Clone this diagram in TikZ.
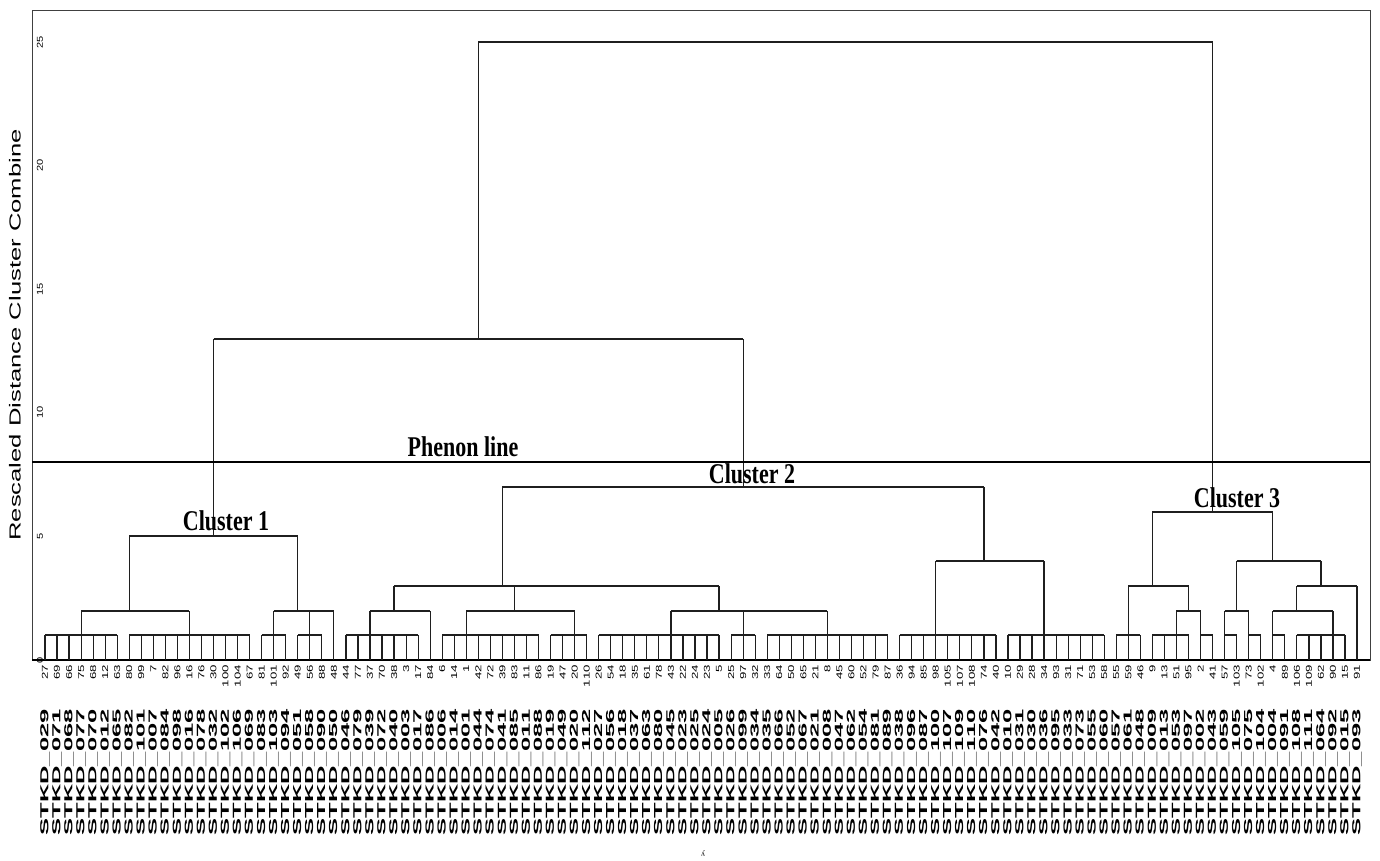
\documentclass[tikz,border=0pt]{standalone}
\usepackage{fontspec}
\setmainfont{Liberation Serif}
\setsansfont{Liberation Sans}[Kerning=Off]
\pgfmathdeclarefunction{lx}{1}{\pgfmathparse{45+(#1-1)*12.037}}
\pgfmathdeclarefunction{hy}{1}{\pgfmathparse{660-24.72*#1}}
\newcommand\vseg[3]{\draw[vbar] ({lx(#1)},{hy(#2)}) -- ({lx(#1)},{hy(#3)});}
\newcommand\hseg[3]{\draw[hbar] ({lx(#1)},{hy(#3)}) -- ({lx(#2)},{hy(#3)});}
\tikzset{
  vbar/.style={line width=0.9pt, black!88},
  hbar/.style={line width=1.6pt, black!88},
  frameline/.style={line width=0.6pt, black!75},
  clab/.style={font=\bfseries\fontsize{16.5}{18}\selectfont, inner sep=0},
  numlab/.style={rotate=90, anchor=east, inner sep=0, font=\sffamily\fontsize{6.4}{7}\selectfont},
  idlab/.style={rotate=90, anchor=east, inner sep=0, font=\sffamily\bfseries\fontsize{8.7}{9}\selectfont},
  ticklab/.style={rotate=90, inner sep=0, font=\sffamily\fontsize{6.4}{7}\selectfont}
}
\begin{document}
\begin{tikzpicture}[x=0.75pt, y=-0.75pt]
\useasboundingbox (0,0) rectangle (1380,860);
% frame
\draw[frameline] (32,10) rectangle (1370,660);
\draw[line width=1.3pt] (32,660) -- (1370,660);
% y axis
\foreach \v in {0,5,...,25} {\node[ticklab] (t\v) at (40,{hy(\v)}) {\scalebox{1.3}[1]{\v}};}
\node[rotate=90, inner sep=0, font=\sffamily\fontsize{12}{14}\selectfont] (ytitle) at (15,335) {\scalebox{1.6}[1]{Rescaled Distance Cluster Combine}};
% leaf verticals
\foreach \i in {1,...,110} {\vseg{\i}{0}{1}}
\vseg{25}{1}{2} \vseg{33}{1}{2} \vseg{110}{1}{3}
% leaf-level bars
\foreach \a/\b in {1/7, 8/18, 19/21, 22/24, 26/32, 34/42, 43/46, 47/57, 58/60, 61/71, 72/80, 81/89, 90/92, 93/96, 97/98, 99/100, 101/102, 103/104, 105/109} {\hseg{\a}{\b}{1}}
% cluster 1
\vseg{4}{1}{2} \vseg{13}{1}{2} \hseg{4}{13}{2} \vseg{8}{2}{5}
\vseg{20}{1}{2} \vseg{23}{1}{2} \hseg{20}{25}{2} \vseg{22}{2}{5}
\hseg{8}{22}{5} \vseg{15}{5}{13}
% cluster 2
\vseg{28}{1}{2} \hseg{28}{33}{2} \vseg{30}{2}{3}
\vseg{36}{1}{2} \vseg{45}{1}{2} \hseg{36}{45}{2} \vseg{40}{2}{3}
\vseg{53}{1}{2} \vseg{59}{1}{2} \vseg{66}{1}{2} \hseg{53}{66}{2} \vseg{57}{2}{3}
\hseg{30}{57}{3} \vseg{39}{3}{7}
\vseg{75}{1}{4} \vseg{84}{1}{4} \hseg{75}{84}{4} \vseg{79}{4}{7}
\hseg{39}{79}{7} \vseg{59}{7}{13}
% top
\hseg{15}{59}{13} \vseg{37}{13}{25} \hseg{37}{98}{25} \vseg{98}{6}{25}
% cluster 3
\vseg{91}{1}{3}
\vseg{95}{1}{2} \vseg{97}{1}{2} \hseg{95}{97}{2} \vseg{96}{2}{3}
\hseg{91}{96}{3} \vseg{93}{3}{6}
\vseg{99}{1}{2} \vseg{101}{1}{2} \hseg{99}{101}{2} \vseg{100}{2}{4}
\vseg{103}{1}{2} \vseg{108}{1}{2} \hseg{103}{108}{2} \vseg{105}{2}{3}
\hseg{105}{110}{3} \vseg{107}{3}{4}
\hseg{100}{107}{4} \vseg{103}{4}{6}
\hseg{93}{103}{6}
% phenon line
\draw[line width=1.3pt] (32,{hy(8)}) -- (1370,{hy(8)});
\node[clab] (phen) at (463,447) {\scalebox{1}[1.3]{Phenon line}};
\node[clab] (c1) at (226,521) {\scalebox{1}[1.3]{Cluster 1}};
\node[clab] (c2) at (752,474) {\scalebox{1}[1.3]{Cluster 2}};
\node[clab] (c3) at (1237,498) {\scalebox{1}[1.3]{Cluster 3}};
% labels
\foreach \id/\num [count=\i] in {029/27, 071/69, 068/66, 077/75, 070/68, 012/12, 065/63, 082/80, 101/99, 007/7,
084/82, 098/96, 016/16, 078/76, 032/30, 102/100, 106/104, 069/67, 083/81, 103/101,
094/92, 051/49, 058/56, 090/88, 050/48, 046/44, 079/77, 039/37, 072/70, 040/38,
003/3, 017/17, 086/84, 006/6, 014/14, 001/1, 044/42, 074/72, 041/39, 085/83,
011/11, 088/86, 019/19, 049/47, 020/20, 112/110, 027/26, 056/54, 018/18, 037/35,
063/61, 080/78, 045/43, 023/22, 025/24, 024/23, 005/5, 026/25, 099/97, 034/32,
035/33, 066/64, 052/50, 067/65, 021/21, 008/8, 047/45, 062/60, 054/52, 081/79,
089/87, 038/36, 096/94, 087/85, 100/98, 107/105, 109/107, 110/108, 076/74, 042/40,
010/10, 031/29, 030/28, 036/34, 095/93, 033/31, 073/71, 055/53, 060/58, 057/55,
061/59, 048/46, 009/9, 013/13, 053/51, 097/95, 002/2, 043/41, 059/57, 105/103,
075/73, 104/102, 004/4, 091/89, 108/106, 111/109, 064/62, 092/90, 015/15, 093/91} {
  \node[numlab] (n\i) at ({lx(\i)},665) {\scalebox{1.55}[1]{\num}};
  \node[idlab] (s\i) at ({lx(\i)},709) {\scalebox{2.2}[1]{STKD\_\id}};
}
\node[rotate=180, inner sep=0, font=\fontsize{6}{7}\selectfont] (yy) at (703,853) {y};
\end{tikzpicture}
\end{document}
